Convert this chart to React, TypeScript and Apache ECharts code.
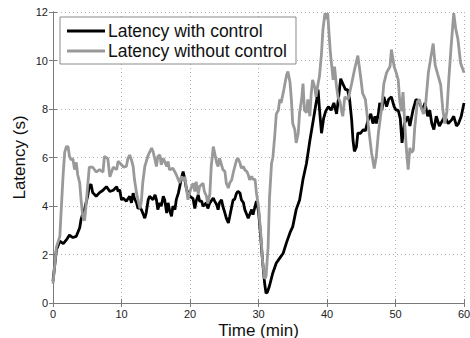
import React, { useEffect, useRef } from "react";
import * as echarts from "echarts";

const xTicks = [0, 10, 20, 30, 40, 50, 60];
const yTicks = [0, 2, 4, 6, 8, 10, 12];
const seriesNames = ["Latency with control", "Latency without control"];

const timeWith = [
  0, 0.5, 1.0, 1.5, 1.95, 2.4, 2.9, 3.4, 3.9, 4.1, 4.35, 4.6, 4.8, 5.05, 5.3, 5.55, 5.8, 6.3, 6.8, 7.3,
  7.8, 8.3, 8.8, 9.3, 9.5, 9.74, 10.0, 10.2, 10.7, 11.2, 11.45, 11.7, 11.9, 12.2, 12.4, 12.7, 12.9, 13.1, 13.4, 13.6,
  13.9, 14.1, 14.6, 14.9, 15.1, 15.3, 15.6, 15.8, 16.1, 16.3, 16.6, 16.8, 17.0, 17.3, 17.5, 17.8, 18.0, 18.3, 18.5, 18.75,
  19.0, 19.25, 19.5, 20.0, 20.45, 20.7, 20.9, 21.2, 21.4, 21.7, 21.9, 22.4, 22.6, 22.9, 23.4, 23.6, 23.9, 24.1, 24.3, 24.6,
  24.8, 25.1, 25.3, 25.6, 25.8, 26.1, 26.3, 26.5, 26.8, 27.0, 27.3, 27.5, 27.8, 28.0, 28.3, 28.5, 28.7, 29.0, 29.2, 29.5,
  29.7, 30.0, 30.3, 30.6, 30.9, 31.1, 31.3, 31.6, 32.1, 32.6, 33.1, 33.6, 34.1, 34.6, 35.0, 35.5, 36.0, 36.5, 37.0, 37.5,
  38.0, 38.5, 38.7, 38.9, 39.2, 39.5, 39.8, 40.2, 40.6, 41.0, 41.4, 41.7, 42.0, 42.3, 42.7, 43.0, 43.3, 43.6, 43.8, 44.0,
  44.3, 44.5, 44.9, 45.3, 45.6, 46.0, 46.4, 46.7, 47.0, 47.2, 47.5, 47.7, 48.0, 48.3, 48.7, 49.0, 49.4, 49.8, 50.1, 50.4,
  50.7, 50.95, 51.3, 51.8, 52.1, 52.55, 53.0, 53.5, 54.0, 54.3, 54.7, 55.0, 55.3, 55.6, 55.95, 56.4, 56.9, 57.2, 57.7, 58.2,
  58.5, 58.9, 59.2, 59.6, 60.0,
];
const latencyWith = [
  0.9, 2.2, 2.55, 2.45, 2.6, 2.8, 2.7, 2.75, 3.1, 3.45, 3.7, 3.85, 4.1, 4.4, 4.8, 4.9, 4.55, 4.4, 4.55, 4.65,
  4.8, 4.6, 4.65, 4.8, 4.6, 4.67, 4.25, 4.33, 4.2, 4.4, 4.13, 4.53, 4.3, 4.13, 3.9, 3.95, 3.85, 3.71, 3.5, 3.71,
  4.26, 4.4, 4.26, 4.46, 4.26, 3.85, 4.13, 3.99, 4.4, 4.26, 3.71, 4.13, 3.85, 3.57, 3.99, 3.85, 4.26, 4.53, 4.8, 5.15,
  5.42, 5.08, 4.67, 4.4, 4.3, 3.9, 4.2, 4.46, 4.2, 4.2, 3.99, 4.13, 3.9, 4.13, 4.33, 4.2, 4.05, 3.85, 4.13, 4.26,
  3.99, 3.71, 3.5, 3.3, 3.57, 3.99, 4.26, 4.26, 4.53, 4.6, 4.53, 4.26, 4.13, 3.85, 3.64, 3.5, 3.64, 3.85, 3.64, 3.99,
  4.2, 3.8, 2.8, 1.7, 0.8, 0.4, 0.45, 0.7, 1.25, 1.65, 1.85, 2.05, 2.5, 2.9, 3.15, 3.85, 4.25, 5.1, 5.75, 6.7,
  7.55, 8.4, 8.8, 8.0, 7.0, 7.6, 7.9, 8.1, 7.95, 8.25, 7.8, 8.5, 9.25, 9.05, 8.8, 8.8, 8.4, 7.55, 6.7, 6.25,
  6.45, 7.0, 7.0, 7.15, 7.1, 7.55, 7.8, 7.4, 7.7, 7.4, 7.8, 8.25, 7.95, 8.5, 8.1, 8.4, 8.5, 8.1, 7.95, 7.95,
  7.6, 6.6, 7.4, 7.7, 7.3, 7.95, 8.4, 8.25, 7.95, 8.25, 7.7, 7.95, 7.4, 7.15, 7.7, 7.3, 7.55, 7.7, 7.4, 7.55,
  7.7, 7.3, 7.4, 7.7, 8.25,
];

const timeWithout = [
  0, 0.5, 1.0, 1.2, 1.46, 1.7, 1.95, 2.2, 2.4, 2.65, 2.9, 3.15, 3.4, 3.6, 3.9, 4.1, 4.35, 4.6, 4.8, 5.05,
  5.3, 5.8, 6.3, 6.8, 7.3, 7.5, 8.0, 8.3, 8.8, 9.3, 9.5, 10.0, 10.3, 10.7, 10.95, 11.2, 11.45, 11.7, 11.9, 12.2,
  12.4, 12.7, 12.9, 13.1, 13.4, 13.9, 14.4, 14.6, 14.9, 15.1, 15.3, 15.6, 15.8, 16.1, 16.6, 16.8, 17.0, 17.5, 18.0, 18.3,
  18.5, 18.75, 19.0, 19.25, 19.5, 19.7, 20.1, 20.45, 20.7, 20.9, 21.2, 21.4, 21.9, 22.1, 22.4, 22.6, 22.9, 23.1, 23.4, 23.6,
  23.9, 24.1, 24.3, 24.6, 24.8, 25.1, 25.3, 25.6, 25.8, 26.1, 26.3, 26.8, 27.0, 27.3, 27.5, 27.8, 28.0, 28.3, 28.5, 28.7,
  29.0, 29.2, 29.5, 29.7, 30.0, 30.2, 30.4, 30.6, 30.9, 31.1, 31.4, 31.6, 31.9, 32.1, 32.4, 32.6, 32.9, 33.1, 33.3, 33.7,
  34.1, 34.3, 34.6, 34.8, 35.0, 35.3, 35.5, 35.8, 36.0, 36.3, 36.5, 36.7, 37.0, 37.2, 37.5, 37.7, 37.9, 38.2, 38.4, 38.7,
  38.9, 39.2, 39.4, 39.7, 39.9, 40.1, 40.3, 40.5, 40.7, 40.9, 41.1, 41.4, 41.6, 41.9, 42.1, 42.3, 42.6, 43.1, 43.6, 44.0,
  44.5, 44.9, 45.2, 45.6, 46.0, 46.5, 46.9, 47.2, 47.5, 48.0, 48.3, 48.7, 49.2, 49.4, 49.8, 50.1, 50.4, 50.6, 50.85, 51.1,
  51.35, 51.6, 51.85, 52.1, 52.3, 52.6, 52.8, 53.2, 53.5, 53.8, 54.1, 54.4, 54.8, 55.2, 55.5, 55.8, 56.2, 56.6, 56.9, 57.2,
  57.5, 57.8, 58.1, 58.5, 58.8, 59.1, 59.5, 60.0,
];
const latencyWithout = [
  0.8, 2.3, 2.75, 3.85, 5.2, 6.2, 6.45, 6.45, 6.05, 5.9, 5.95, 5.5, 5.8, 5.3, 4.95, 4.25, 3.55, 3.4, 3.95, 4.8,
  5.6, 5.6, 5.4, 5.5, 5.4, 6.05, 5.95, 5.2, 5.6, 5.5, 5.85, 5.7, 5.6, 5.63, 5.97, 6.1, 5.9, 5.63, 5.08, 4.53,
  4.26, 3.9, 4.2, 4.95, 5.63, 6.1, 6.39, 6.25, 5.9, 5.63, 6.04, 6.11, 5.7, 5.97, 5.63, 5.84, 5.49, 5.56, 5.29, 5.08,
  4.95, 5.22, 5.08, 5.2, 4.67, 4.26, 4.7, 4.94, 4.6, 5.0, 4.5, 4.8, 4.94, 4.6, 4.4, 4.1, 4.5, 5.63, 6.45, 6.18,
  5.77, 5.63, 5.97, 5.7, 5.5, 5.42, 4.94, 4.74, 4.95, 5.08, 5.36, 5.9, 5.97, 5.77, 5.56, 5.63, 5.49, 5.42, 5.29, 5.08,
  5.22, 5.1, 5.1, 4.53, 3.99, 3.3, 2.6, 1.7, 1.0, 1.1, 2.3, 4.3, 5.75, 6.0, 7.0, 7.8, 7.95, 8.4, 8.25, 8.8,
  9.4, 9.55, 9.1, 8.4, 7.4, 7.15, 6.6, 7.0, 7.85, 8.4, 9.05, 7.95, 7.85, 8.4, 7.7, 8.65, 9.2, 8.9, 8.5, 9.05,
  9.35, 10.3, 11.25, 11.95, 11.7, 11.95, 11.1, 10.3, 9.75, 9.2, 9.75, 8.9, 8.5, 8.3, 7.95, 7.7, 8.5, 8.4, 9.05, 9.6,
  10.2, 9.35, 8.65, 8.4, 7.4, 6.2, 5.55, 6.05, 7.0, 8.1, 9.05, 9.5, 9.75, 10.45, 9.75, 9.5, 9.2, 8.4, 7.9, 8.7,
  7.4, 6.3, 5.5, 6.4, 6.2, 6.3, 7.2, 8.3, 8.4, 8.0, 7.8, 8.2, 9.5, 10.2, 10.7, 9.8, 9.4, 9.0, 8.0, 7.4,
  7.9, 9.3, 10.5, 11.95, 11.3, 10.9, 9.9, 9.5,
];

const FONT = "'Liberation Sans', Arial, Helvetica, sans-serif";
const AXIS_COLOR = "#7a7a7a";

export default function App() {
  const ref = useRef<HTMLDivElement>(null);
  useEffect(() => {
    if (!ref.current) return;
    const chart = echarts.init(ref.current, undefined, { renderer: "svg" });
    const zip = (xs: number[], ys: number[]) => xs.map((x, i) => [x, ys[i]]);
    const baseX = {
      type: "value" as const,
      min: xTicks[0],
      max: xTicks[xTicks.length - 1],
      interval: 10,
    };
    const baseY = {
      type: "value" as const,
      min: yTicks[0],
      max: yTicks[yTicks.length - 1],
      interval: 2,
    };
    chart.setOption({
      animation: false,
      backgroundColor: "#ffffff",
      grid: { left: 53, top: 12, right: 6, bottom: 35, containLabel: false, outerBoundsMode: "none" },
      legend: {
        orient: "vertical",
        left: 60,
        top: 17,
        padding: [4, 9, 3, 7],
        itemGap: 0,
        itemWidth: 38,
        itemHeight: 3,
        icon: "rect",
        backgroundColor: "#ffffff",
        borderColor: "#8a8a8a",
        borderWidth: 1,
        textStyle: { fontFamily: FONT, fontSize: 17.5, color: "#111", lineHeight: 20, padding: [0, 0, 0, -2] },
        data: seriesNames,
      },
      xAxis: [
        {
          ...baseX,
          position: "bottom",
          name: "Time (min)",
          nameLocation: "middle",
          nameGap: 18.5,
          nameMoveOverlap: false,
          nameTextStyle: { fontFamily: FONT, fontSize: 17, color: "#111", verticalAlign: "top" },
          axisLine: { show: true, lineStyle: { color: AXIS_COLOR, width: 1 } },
          axisTick: { show: true, inside: true, length: 4, lineStyle: { color: AXIS_COLOR } },
          axisLabel: { fontFamily: FONT, fontSize: 11, color: "#222", margin: 5 },
          splitLine: { show: true, lineStyle: { color: "#b0b0b0", type: [1, 3], width: 1 } },
        },
        {
          ...baseX,
          position: "top",
          axisLine: { show: true, lineStyle: { color: AXIS_COLOR, width: 1 } },
          axisTick: { show: true, inside: true, length: 4, lineStyle: { color: AXIS_COLOR } },
          axisLabel: { show: false },
          splitLine: { show: false },
        },
      ],
      yAxis: [
        {
          ...baseY,
          position: "left",
          name: "Latency (s)",
          nameLocation: "middle",
          nameGap: 25,
          nameMoveOverlap: false,
          nameRotate: 90,
          nameTextStyle: { fontFamily: FONT, fontSize: 17, color: "#111" },
          axisLine: { show: true, lineStyle: { color: AXIS_COLOR, width: 1 } },
          axisTick: { show: true, inside: true, length: 4, lineStyle: { color: AXIS_COLOR } },
          axisLabel: { fontFamily: FONT, fontSize: 11, color: "#222", margin: 5 },
          splitLine: { show: true, lineStyle: { color: "#b0b0b0", type: [1, 3], width: 1 } },
        },
        {
          ...baseY,
          position: "right",
          axisLine: { show: true, lineStyle: { color: AXIS_COLOR, width: 1 } },
          axisTick: { show: true, inside: true, length: 4, lineStyle: { color: AXIS_COLOR } },
          axisLabel: { show: false },
          splitLine: { show: false },
        },
      ],
      series: [
        {
          name: seriesNames[0],
          type: "line",
          xAxisIndex: 0,
          yAxisIndex: 0,
          data: zip(timeWith, latencyWith),
          showSymbol: false,
          symbol: "none",
          color: "#000000",
          lineStyle: { color: "#000000", width: 2.8 },
          clip: true,
        },
        {
          name: seriesNames[1],
          type: "line",
          xAxisIndex: 0,
          yAxisIndex: 0,
          data: zip(timeWithout, latencyWithout),
          showSymbol: false,
          symbol: "none",
          color: "#999999",
          lineStyle: { color: "#999999", width: 2.8 },
          clip: true,
        },
      ],
    });
    return () => chart.dispose();
  }, []);
  return (
    <div
      ref={ref}
      style={{ position: "fixed", left: 0, top: 0, width: 470, height: 338, background: "#fff" }}
    />
  );
}
